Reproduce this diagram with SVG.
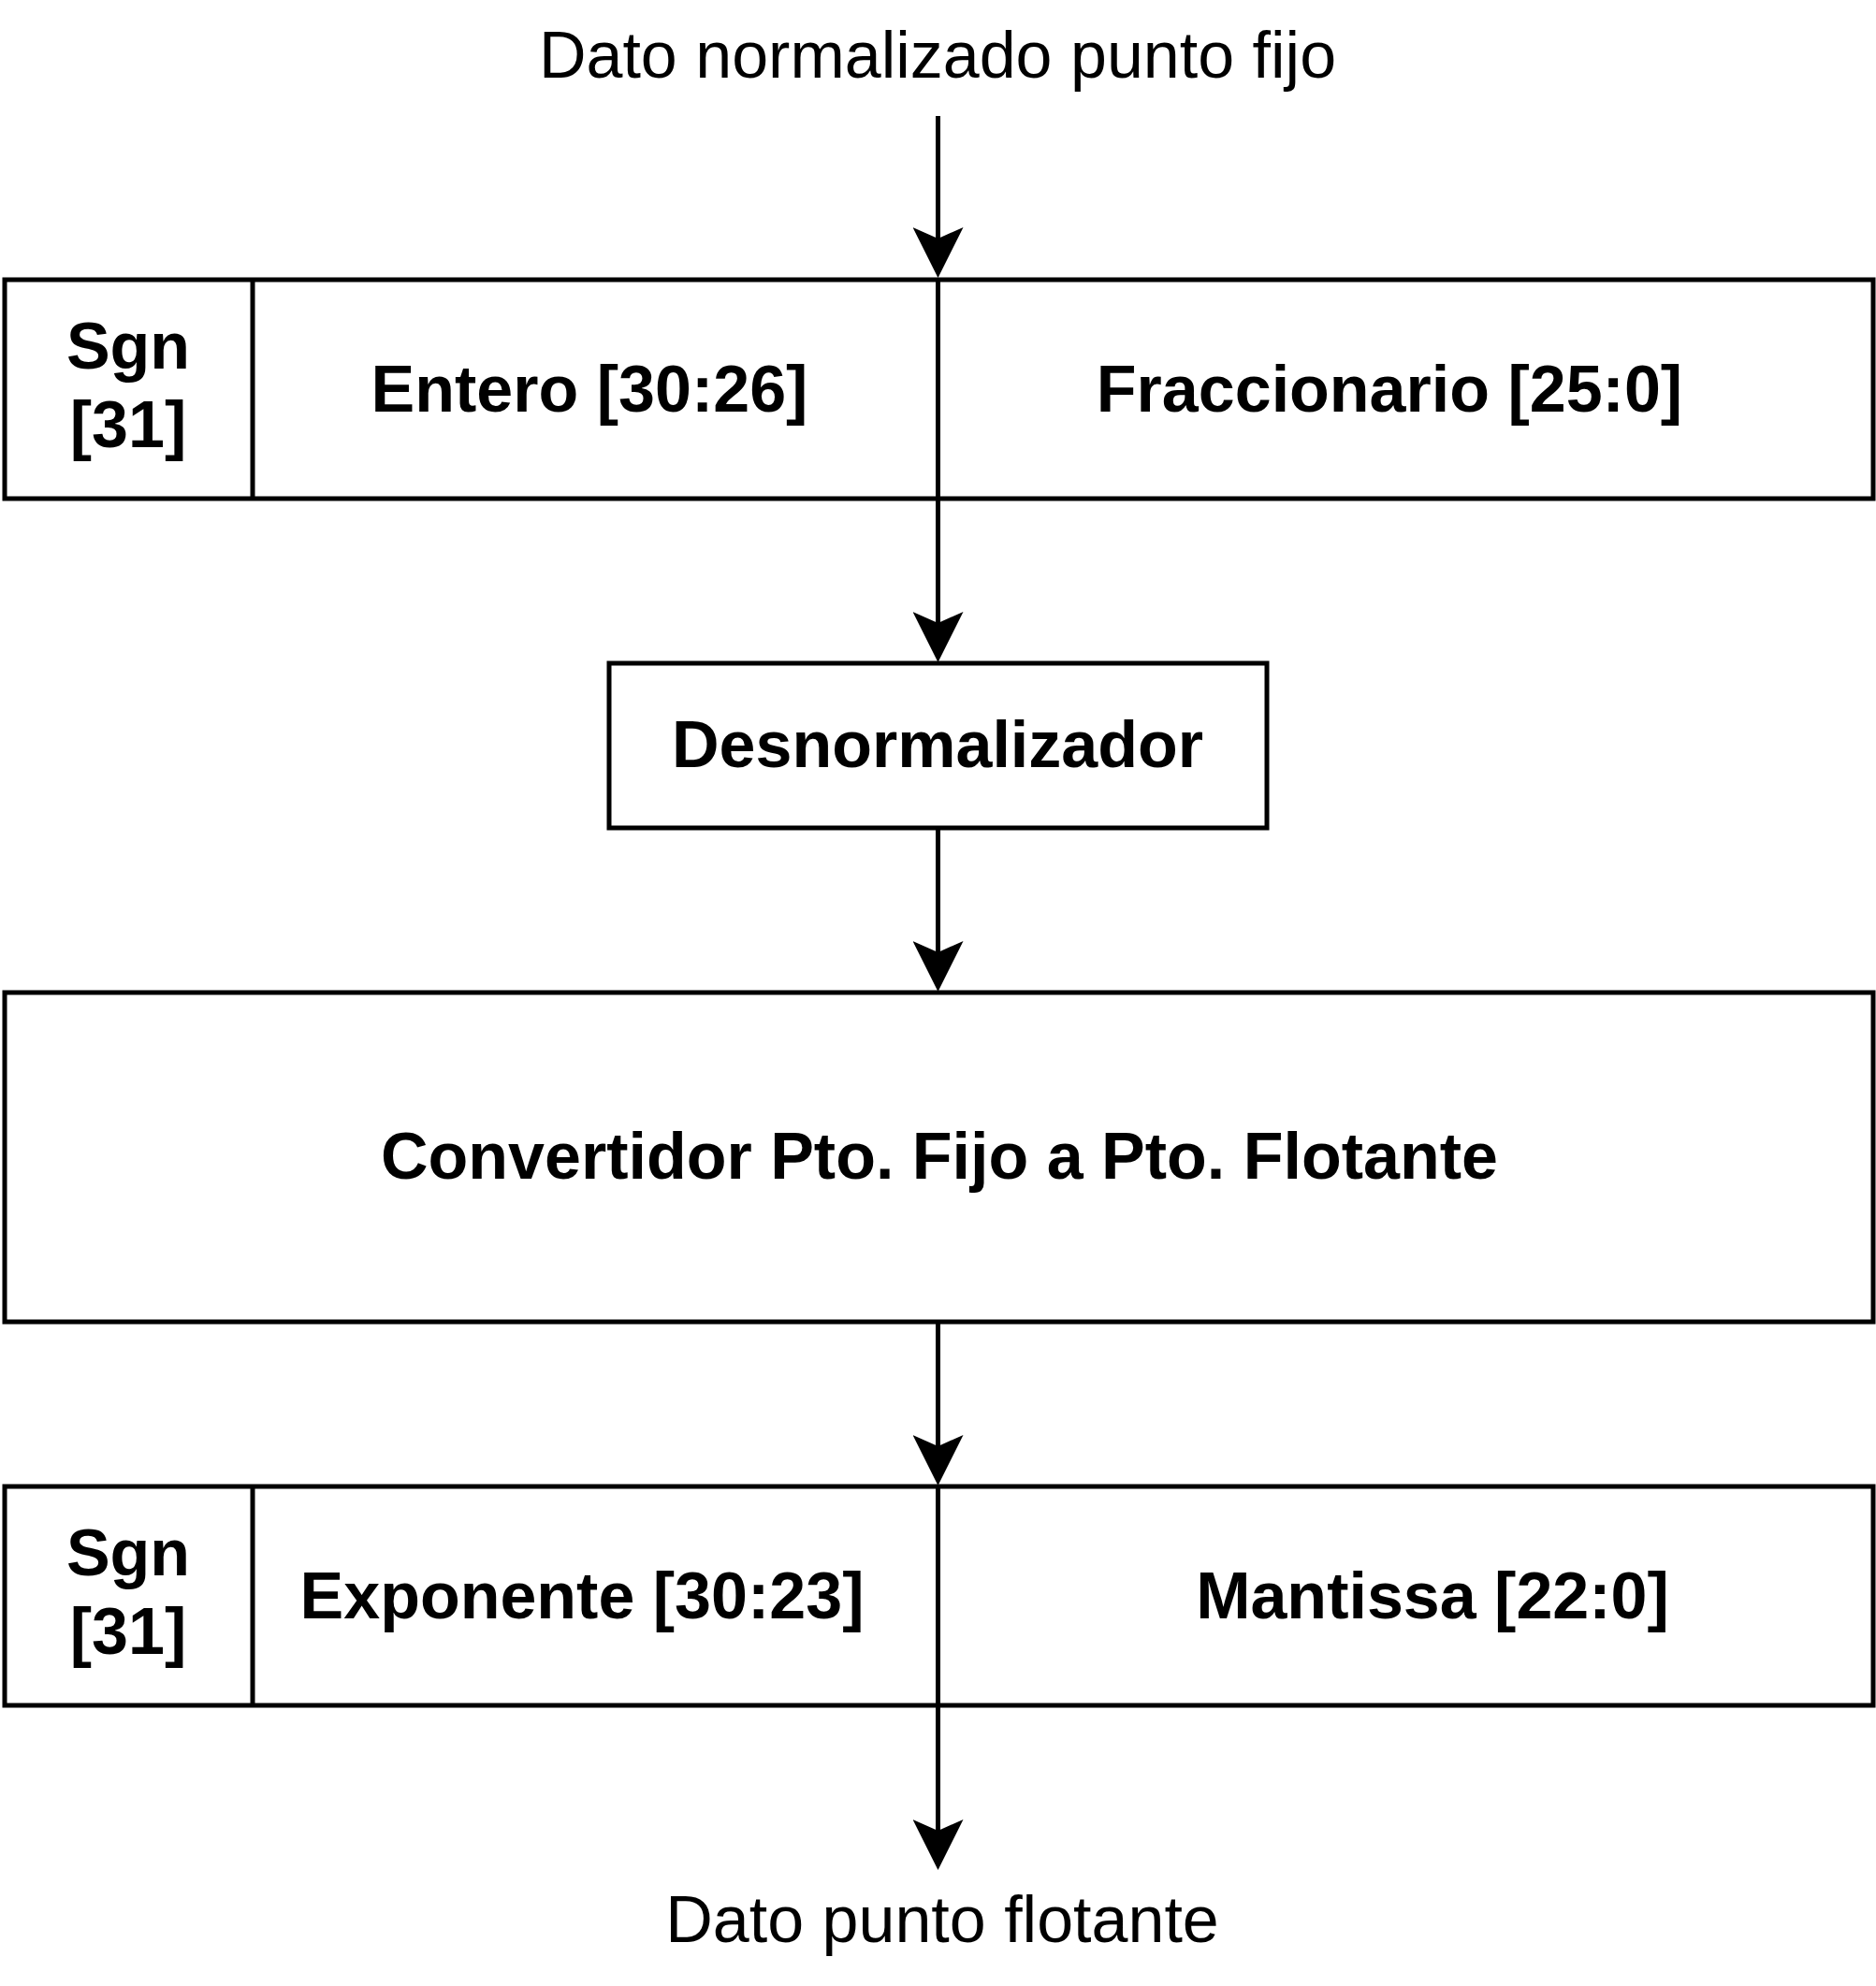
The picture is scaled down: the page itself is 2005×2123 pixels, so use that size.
<svg xmlns="http://www.w3.org/2000/svg" width="2005" height="2123" viewBox="0 0 2005 2123">
  <style>
    .box { fill: #ffffff; stroke: #000000; stroke-width: 5; }
    .div { fill: none; stroke: #000000; stroke-width: 5; }
    .edge { fill: none; stroke: #000000; stroke-width: 5; }
    .lbl { font-family: "Liberation Sans", Arial, Helvetica, sans-serif; font-size: 70px; fill: #000000; text-anchor: middle; }
    .b { font-weight: bold; }
  </style>
  <defs>
    <marker id="arrow" markerUnits="userSpaceOnUse" viewBox="0 0 54 54" markerWidth="54" markerHeight="54" refX="12" refY="27" orient="auto">
      <path d="M0,0 L54,27 L0,54 L12,27 Z" fill="#000000"/>
    </marker>
  </defs>
  <rect width="2005" height="2123" fill="#ffffff"/>

  <g id="label-input">
    <text class="lbl" x="1002" y="83">Dato normalizado punto fijo</text>
  </g>

  <g id="node-fixed">
    <rect class="box" x="5" y="299" width="1997" height="234"/>
    <line class="div" x1="270" y1="299" x2="270" y2="533"/>
    <line class="div" x1="1002.5" y1="299" x2="1002.5" y2="533"/>
    <text class="lbl b" x="137" y="394">Sgn</text>
    <text class="lbl b" x="137" y="478">[31]</text>
    <text class="lbl b" x="630" y="440">Entero [30:26]</text>
    <text class="lbl b" x="1485" y="440">Fraccionario [25:0]</text>
  </g>

  <g id="node-desnormalizador">
    <rect class="box" x="651" y="709" width="703" height="176"/>
    <text class="lbl b" x="1002" y="820">Desnormalizador</text>
  </g>

  <g id="node-convertidor">
    <rect class="box" x="5" y="1061" width="1997" height="352"/>
    <text class="lbl b" x="1004" y="1260">Convertidor Pto. Fijo a Pto. Flotante</text>
  </g>

  <g id="node-float">
    <rect class="box" x="5" y="1589" width="1997" height="234"/>
    <line class="div" x1="270" y1="1589" x2="270" y2="1823"/>
    <line class="div" x1="1002.5" y1="1589" x2="1002.5" y2="1823"/>
    <text class="lbl b" x="137" y="1684">Sgn</text>
    <text class="lbl b" x="137" y="1768">[31]</text>
    <text class="lbl b" x="622" y="1730">Exponente [30:23]</text>
    <text class="lbl b" x="1531" y="1730">Mantissa [22:0]</text>
  </g>

  <g id="label-output">
    <text class="lbl" x="1007" y="2076">Dato punto flotante</text>
  </g>

  <g id="connectors">
    <line class="edge" x1="1002.5" y1="124" x2="1002.5" y2="255" marker-end="url(#arrow)"/>
    <line class="edge" x1="1002.5" y1="533" x2="1002.5" y2="666" marker-end="url(#arrow)"/>
    <line class="edge" x1="1002.5" y1="885" x2="1002.5" y2="1018" marker-end="url(#arrow)"/>
    <line class="edge" x1="1002.5" y1="1413" x2="1002.5" y2="1546" marker-end="url(#arrow)"/>
    <line class="edge" x1="1002.5" y1="1823" x2="1002.5" y2="1957" marker-end="url(#arrow)"/>
  </g>
</svg>
